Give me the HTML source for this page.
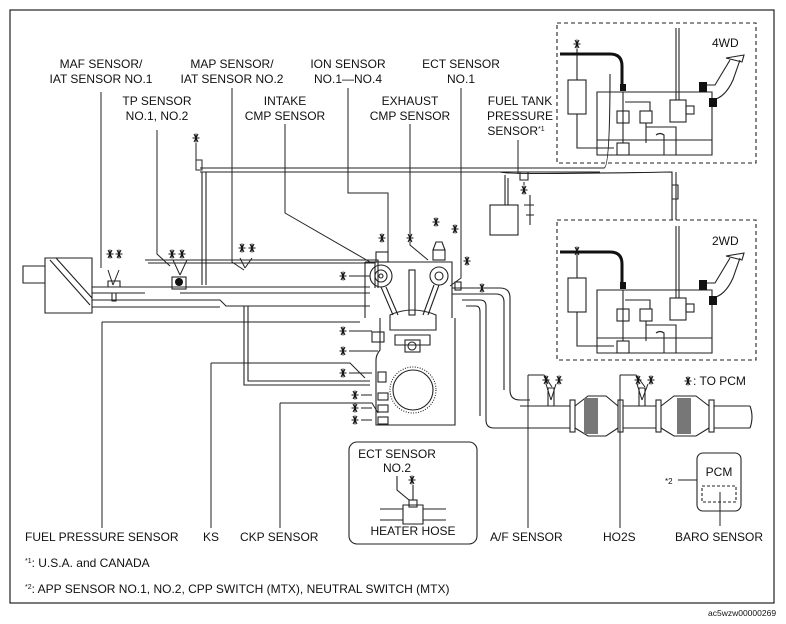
<!DOCTYPE html>
<html><head><meta charset="utf-8"><style>
html,body{margin:0;padding:0;background:#fff;}
svg{display:block}
text{font-family:"Liberation Sans",Arial,sans-serif;font-size:12px;fill:#111}
</style></head><body>
<svg width="786" height="624" viewBox="0 0 786 624" xmlns="http://www.w3.org/2000/svg">
<defs>
<g id="st"><path d="M-3.5,0 H3.5 M-2,-4 L2,4 M2,-4 L-2,4 M0,-4.5 V4.5" stroke="#111" stroke-width="1" fill="none"/></g>
</defs>
<rect x="10" y="10" width="764" height="593" fill="none" stroke="#222" stroke-width="1.2"/>

<g text-anchor="middle">
<text x="101" y="68">MAF SENSOR/</text><text x="101" y="83">IAT SENSOR NO.1</text>
<text x="232" y="68">MAP SENSOR/</text><text x="232" y="83">IAT SENSOR NO.2</text>
<text x="348" y="68">ION SENSOR</text><text x="348" y="83">NO.1—NO.4</text>
<text x="461" y="68">ECT SENSOR</text><text x="461" y="83">NO.1</text>
<text x="157" y="105">TP SENSOR</text><text x="157" y="120">NO.1, NO.2</text>
<text x="285" y="105">INTAKE</text><text x="285" y="120">CMP SENSOR</text>
<text x="410" y="105">EXHAUST</text><text x="410" y="120">CMP SENSOR</text>
<text x="520" y="105">FUEL TANK</text><text x="520" y="120">PRESSURE</text><text x="516" y="135">SENSOR<tspan font-size="7" dy="-4">*1</tspan></text>
</g>
<text x="25" y="541">FUEL PRESSURE SENSOR</text>
<text x="203" y="541">KS</text>
<text x="240" y="541">CKP SENSOR</text>
<text x="490" y="541">A/F SENSOR</text>
<text x="603" y="541">HO2S</text>
<text x="675" y="541">BARO SENSOR</text>
<text x="25" y="567"><tspan font-size="7" dy="-4">*1</tspan><tspan dy="4">: U.S.A. and CANADA</tspan></text>
<text x="25" y="593"><tspan font-size="7" dy="-4">*2</tspan><tspan dy="4">: APP SENSOR NO.1, NO.2, CPP SWITCH (MTX), NEUTRAL SWITCH (MTX)</tspan></text>
<text x="708" y="616" style="font-size:8.5px">ac5wzw00000269</text>
<text x="693" y="385">: TO PCM</text><use href="#st" x="688" y="381"/>

<g fill="none" stroke="#222" stroke-width="1">
<path d="M101 92 V268 M157 130 V254 L170 266 M232 88 V262 L244 270 M285 124 V213 L370 262 M348 88 V193 L388 193 V258 M410 124 V245 L428 260 M461 88 V278 L450 286 M518 140 V174"/>
<path d="M102 322 V528 M102 322 H360 M211 363 V528 M211 363 H350 L365 378 M280 403 V528 M280 403 H372 L378 413"/>
<path d="M528 375 V528 M528 375 H544 L552 387 M620 375 V528 M620 375 H636 L645 387 M720 492 V526"/>
<path d="M113 285 L108 270 M113 285 L119 270 M180 275 L173 260 M180 275 L187 260 M245 268 L240 258 M245 268 L252 258 M551 400 L546 384 M551 400 L556 384 M642 400 L637 384 M642 400 L648 384"/>
</g>
<g>
<use href="#st" x="110" y="254"/><use href="#st" x="119" y="254"/>
<use href="#st" x="172" y="254"/><use href="#st" x="182" y="254"/>
<use href="#st" x="242" y="248"/><use href="#st" x="252" y="248"/>
<use href="#st" x="196" y="138"/>
<use href="#st" x="382" y="238"/><use href="#st" x="410" y="238"/><use href="#st" x="436" y="222"/><use href="#st" x="455" y="229"/><use href="#st" x="467" y="261"/><use href="#st" x="482" y="288"/>
<use href="#st" x="343" y="276"/><use href="#st" x="343" y="331"/><use href="#st" x="343" y="351"/><use href="#st" x="343" y="373"/>
<use href="#st" x="355" y="395"/><use href="#st" x="355" y="408"/><use href="#st" x="355" y="420"/>
<use href="#st" x="546" y="380"/><use href="#st" x="559" y="380"/><use href="#st" x="638" y="380"/><use href="#st" x="651" y="380"/>
<use href="#st" x="524" y="190"/><use href="#st" x="577" y="44"/><use href="#st" x="577" y="251"/>
<use href="#st" x="412" y="480"/>
</g>
<g fill="none" stroke="#222" stroke-width="1">
<path d="M349 276 H370 M349 331 H372 M349 351 H378 M349 373 H372 M361 395 H372 M361 408 H372 M361 420 H372"/>
<path d="M196 143 V160 M524 182 V185 M196 160 h6 v10 h-6 z"/>
</g>

<g fill="none" stroke="#222" stroke-width="1.1">
<path d="M23 266 H45 V283 H23 Z M45 258 H92 V313 H45 Z"/>
<path d="M50 260 L90 305 M56 258 L92 298"/>
<path d="M92 287 H370 M92 293 H145 M180 293 H370"/>
<path d="M92 300 H220 L226 306 H370 M92 307 H220"/>
<path d="M145 260 H378 V288 M148 263 H375 V288"/>
<path d="M200 168 H500 M200 172 H498"/>
<path d="M202 172 V285 M206 172 V285"/>
<path d="M244 306 V385 H370 M248 306 V381 H370"/>
<path d="M108 287 v-6 h12 v6 M112 293 v8 h4 v-8"/>
<rect x="172" y="277" width="14" height="12"/>
</g>
<circle cx="179" cy="282" r="4" fill="#111"/>

<g fill="none" stroke="#222" stroke-width="1.1">
<path d="M365 262 H452 V318 M365 262 V318"/>
<circle cx="381" cy="276" r="11"/><circle cx="381" cy="276" r="6"/><circle cx="381" cy="276" r="2"/>
<circle cx="439" cy="276" r="9"/><circle cx="439" cy="276" r="4"/>
<path d="M381 287 L393 315 M386 287 L398 315 M439 285 L428 315 M434 285 L423 315"/>
<rect x="409" y="270" width="6" height="45"/>
<path d="M390 315 Q412 305 436 315 V330 H390 Z"/>
<path d="M395 335 H430 V345 H395 Z"/>
<rect x="405" y="340" width="15" height="12"/><circle cx="412" cy="346" r="4"/>
<path d="M380 318 V350 Q376 355 376 360 V425 H455 V318"/>
<circle cx="413" cy="390" r="20"/>
<circle cx="413" cy="390" r="23" stroke-dasharray="1 1.5"/>
<rect x="372" y="332" width="12" height="10"/><rect x="378" y="372" width="8" height="10"/>
<rect x="378" y="393" width="10" height="7"/><rect x="378" y="405" width="10" height="7"/><rect x="378" y="417" width="10" height="7"/>
<rect x="376" y="252" width="12" height="10"/><rect x="433" y="250" width="12" height="10"/>
<path d="M433 250 L436 242 H442 L445 250"/>
<rect x="455" y="282" width="6" height="8"/>
<path d="M452 288 H500 Q510 288 510 298 V390 Q510 400 520 400 H530 M452 294 H496 Q504 294 504 302 V390"/>
<path d="M462 300 H480 Q486 300 486 306 V420 Q486 428 494 428 H570 M466 306 H476 Q480 306 480 312 V416"/>
<path d="M520 406 H570 M520 428 H570"/>
<rect x="570" y="400" width="5" height="32"/><rect x="618" y="400" width="5" height="32"/><rect x="656" y="400" width="5" height="32"/><rect x="709" y="400" width="5" height="32"/>
<path d="M575 406 L588 396 H606 L618 406 M575 428 L588 436 H606 L618 428"/>
<path d="M661 406 L674 396 H696 L709 406 M661 428 L674 436 H696 L709 428"/>
<path d="M623 406 H656 M623 428 H656 M714 406 H750 M714 428 H750 M750 406 Q754 417 750 428"/>
<path d="M548 388 h6 v18 h-6 z M639 388 h6 v18 h-6 z"/>
</g>
<rect x="584" y="398" width="14" height="36" fill="#777"/>
<rect x="677" y="398" width="14" height="36" fill="#777"/>

<g fill="none" stroke="#222" stroke-width="1.1">
<path d="M500 168 H604 Q610 168 610 74 M498 172 H600"/>
<path d="M520 172 V180 h8 v-8"/>
<rect x="490" y="205" width="28" height="30"/>
<path d="M505 205 V175 M508 205 V178"/>
<path d="M530 195 V225 M526 215 h8 M524 205 h10"/>
<path d="M500 172 Q500 175 672 172 V220 M676 172 V220 M672 185 h6 v14 h-6 z"/>
<rect x="557" y="23" width="199" height="140" stroke-dasharray="4 3"/>
<rect x="557" y="220" width="199" height="140" stroke-dasharray="4 3"/>
</g>
<text x="712" y="47">4WD</text>
<text x="712" y="245">2WD</text>

<g id="tank" fill="none" stroke="#222" stroke-width="1.1">
<path d="M560 54 H610 Q622 54 622 66 V88"/>
<rect x="568" y="80" width="18" height="34"/>
<path d="M577 49 V80 M577 114 V148 H614"/>
<path d="M597 92 H712 V155 H597 Z M597 140 H712"/>
<rect x="617" y="111" width="12" height="12"/><rect x="640" y="111" width="12" height="12"/>
<rect x="617" y="143" width="12" height="12"/>
<path d="M623 92 V143 M625 102 H650 V111 M646 123 V143 M646 127 H676 V155 M656 135 Q660 132 664 135 V155"/>
<path d="M676 28 V100 M679 28 V100"/><rect x="670" y="100" width="16" height="22"/><rect x="686" y="106" width="8" height="8"/>
<path d="M700 85 H715 L730 60 M712 100 Q725 98 733 80 L740 60"/>
<path d="M726 58 L744 55 L742 62 Z"/>
</g>
<rect x="620" y="84" width="6" height="7" fill="#111"/><rect x="699" y="82" width="8" height="10" fill="#111"/><rect x="709" y="98" width="8" height="9" fill="#111"/>
<path d="M560 54 H610 Q622 54 622 66 V84" stroke="#111" stroke-width="3" fill="none"/>
<use href="#tank" x="0" y="198"/>
<rect x="620" y="282" width="6" height="7" fill="#111"/><rect x="699" y="280" width="8" height="10" fill="#111"/><rect x="709" y="296" width="8" height="9" fill="#111"/>
<path d="M560 252 H610 Q622 252 622 264 V282" stroke="#111" stroke-width="3" fill="none"/>

<g fill="none" stroke="#222" stroke-width="1.1">
<rect x="349" y="442" width="128" height="102" rx="8"/>
<path d="M380 509 H403 M380 520 H403 M423 509 H446 M423 520 H446 M403 505 V524 H423 V505 Z"/>
<rect x="409" y="500" width="8" height="7"/>
<path d="M413 485 V500 M397 476 V490 L409 500"/>
<rect x="697" y="453" width="44" height="58" rx="6"/>
<rect x="702" y="486" width="34" height="16" stroke-dasharray="3 2"/>
<path d="M678 480 H697"/>
</g>
<g text-anchor="middle">
<text x="397" y="458">ECT SENSOR</text><text x="397" y="472">NO.2</text>
<text x="413" y="535">HEATER HOSE</text>
<text x="719" y="476">PCM</text>
</g>
<text x="665" y="484" style="font-size:8px">*2</text>
</svg>
</body></html>
